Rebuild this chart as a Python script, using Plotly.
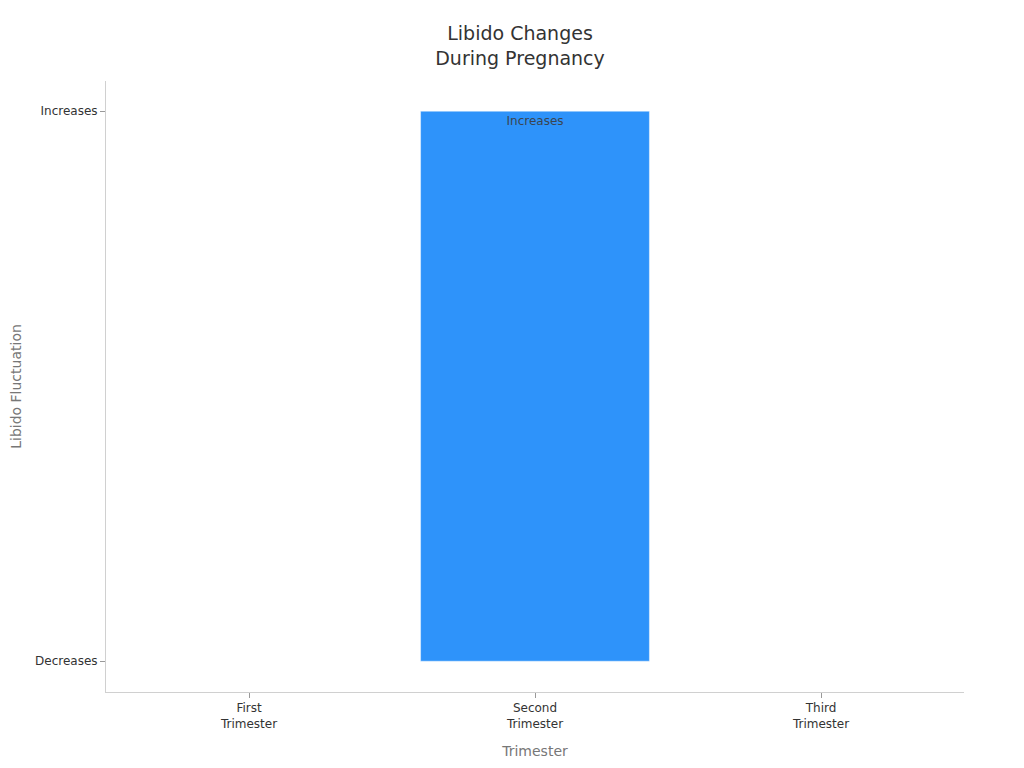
import plotly.graph_objects as go

trimesters = ["First<br>Trimester", "Second<br>Trimester", "Third<br>Trimester"]
libido = ["Decreases", "Increases", "Decreases"]
levels = ["Decreases", "Increases"]

fig = go.Figure()
fig.add_trace(go.Bar(
    x=trimesters,
    y=libido,
    text=libido,
    textposition="inside",
    insidetextanchor="end",
    textfont=dict(family="DejaVu Sans", size=12, color="#3a4550"),
    marker=dict(color="#2E93FA", line=dict(color="rgba(255,255,255,0.4)", width=1)),
    hoverinfo="x+y",
))

fig.update_layout(
    width=1024, height=768,
    paper_bgcolor="white", plot_bgcolor="white",
    font=dict(family="DejaVu Sans", color="#333333"),
    title=dict(text="Libido Changes<br>During Pregnancy", x=0.5, xanchor="center",
               y=0.958, yanchor="middle",
               font=dict(size=19, color="#333333")),
    margin=dict(l=98, r=68, t=73, b=84),
    bargap=0.2,
    showlegend=False,
    uniformtext=dict(mode="hide", minsize=10),
)
fig.update_xaxes(
    type="category", range=[-0.5, 2.5], automargin=False,
    showline=True, linecolor="#d0d0d0", linewidth=1,
    ticks="outside", ticklen=5, tickcolor="#999999",
    tickfont=dict(size=12, color="#333333"),
    showgrid=False, zeroline=False,
    title=dict(text="Trimester", font=dict(size=14, color="#777777"), standoff=16),
)
fig.update_yaxes(
    type="category", categoryorder="array", categoryarray=levels,
    range=[-0.056, 1.055], automargin=False,
    showline=True, linecolor="#d0d0d0", linewidth=1,
    ticks="outside", ticklen=5, tickcolor="#999999",
    tickfont=dict(size=12, color="#333333"),
    showgrid=False, zeroline=False,
    title=dict(text="Libido Fluctuation", font=dict(size=14, color="#777777"), standoff=16),
)

fig.write_html("out.html")
